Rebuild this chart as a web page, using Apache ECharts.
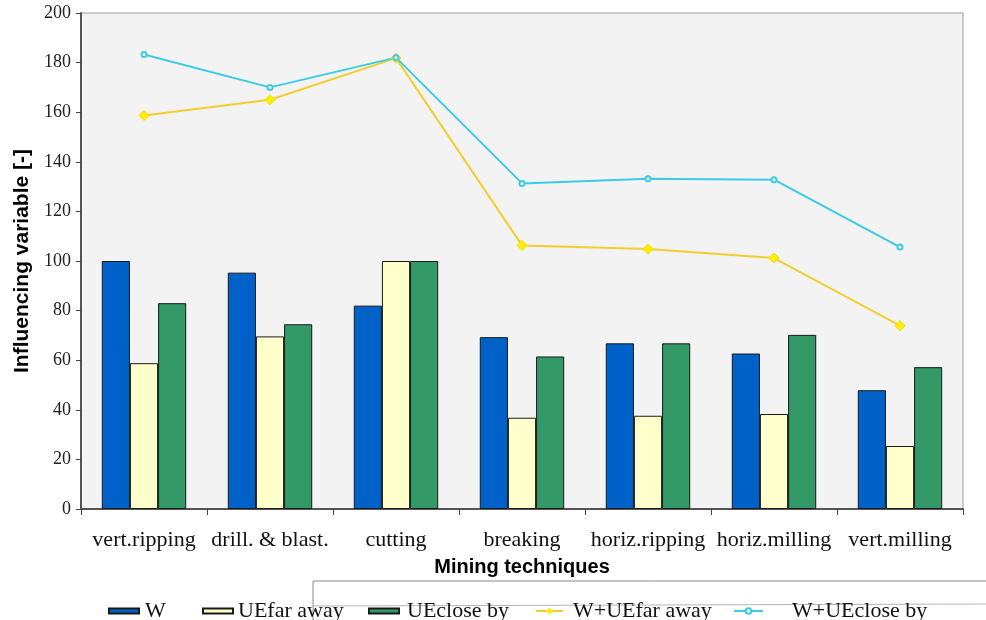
<!DOCTYPE html>
<html>
<head>
<meta charset="utf-8">
<script src="https://cdn.jsdelivr.net/npm/echarts@6/dist/echarts.min.js"></script>
<style>
  html, body { margin: 0; padding: 0; background: #fff; }
  #chart { width: 986px; height: 620px; }
</style>
</head>
<body>
<div id="chart"></div>
<script>
// data
var techniques = ['vert.ripping', 'drill. & blast.', 'cutting', 'breaking', 'horiz.ripping', 'horiz.milling', 'vert.milling'];
var W = [100, 95.3, 82, 69.3, 66.8, 62.7, 47.9];
var UEfar = [58.8, 69.6, 100, 36.8, 37.6, 38.3, 25.4];
var UEclose = [83, 74.5, 100, 61.5, 66.8, 70.2, 57.2];
var WUEfar = [158.7, 165, 181.8, 106.3, 104.8, 101.2, 73.9];
var WUEclose = [183.3, 170, 182, 131.3, 133.2, 132.8, 105.6];
var yTicks = [0, 20, 40, 60, 80, 100, 120, 140, 160, 180, 200];

var serif = '"Liberation Serif", "DejaVu Serif", serif';
var sans = '"Liberation Sans", Arial, sans-serif';

var chart = echarts.init(document.getElementById('chart'));

// one legend per entry so each can sit where the original puts it
function legendAt(name, left, icon, w, h, textGap) {
  return {
    data: [name],
    left: left,
    top: 595,
    itemWidth: w,
    itemHeight: h,
    icon: icon,
    selectedMode: false,
    textStyle: {
      fontFamily: serif, fontSize: 22, color: '#111',
      padding: [0, 0, 0, textGap]
    }
  };
}

var option = {
  backgroundColor: '#ffffff',
  animation: false,
  grid: {
    left: 81, right: 23, top: 13, bottom: 111,
    containLabel: false,
    outerBoundsMode: 'none',
    show: true,
    backgroundColor: '#f3f3f3',
    borderColor: '#9a9a9a',
    borderWidth: 1
  },
  legend: [
    legendAt('W', 103, 'rect', 30, 5, 1),
    legendAt('UEfar away', 197, 'rect', 30, 5, 0),
    legendAt('UEclose by', 363, 'rect', 30, 5, 3),
    legendAt('W+UEfar away', 530, null, 27, 9, 5),
    legendAt('W+UEclose by', 728, null, 29, 7, 24)
  ],
  xAxis: {
    type: 'category',
    data: techniques,
    name: 'Mining techniques',
    nameLocation: 'middle',
    nameGap: 48,
    nameMoveOverlap: false,
    nameTextStyle: { fontFamily: sans, fontWeight: 'bold', fontSize: 20, color: '#000' },
    axisLine: { lineStyle: { color: '#555', width: 2 } },
    axisTick: { show: true, length: 6, lineStyle: { color: '#444' } },
    axisLabel: { interval: 0, fontFamily: serif, fontSize: 22, color: '#111', margin: 20 },
    splitLine: { show: false }
  },
  yAxis: {
    type: 'value',
    min: yTicks[0],
    max: yTicks[yTicks.length - 1],
    interval: 20,
    name: 'Influencing variable [-]',
    nameLocation: 'middle',
    nameGap: 48,
    nameMoveOverlap: false,
    nameTextStyle: { fontFamily: sans, fontWeight: 'bold', fontSize: 21, color: '#000' },
    axisLine: { show: true, lineStyle: { color: '#555', width: 2 } },
    axisTick: { show: true, length: 5, lineStyle: { color: '#444' } },
    axisLabel: { fontFamily: serif, fontSize: 18, color: '#222', margin: 10 },
    splitLine: { show: false }
  },
  series: [
    {
      name: 'W', type: 'bar', data: W,
      barGap: '0%', barCategoryGap: '33%',
      itemStyle: { color: '#0062c9', borderColor: '#1a1a1a', borderWidth: 1 }
    },
    {
      name: 'UEfar away', type: 'bar', data: UEfar,
      itemStyle: { color: '#ffffcc', borderColor: '#1a1a1a', borderWidth: 1 }
    },
    {
      name: 'UEclose by', type: 'bar', data: UEclose,
      itemStyle: { color: '#339966', borderColor: '#1a1a1a', borderWidth: 1 }
    },
    {
      name: 'W+UEfar away', type: 'line', data: WUEfar,
      symbol: 'diamond', symbolSize: 10,
      lineStyle: { color: '#f2cf2e', width: 2 },
      itemStyle: { color: '#ffee00', borderColor: '#f2dc00' }
    },
    {
      name: 'W+UEclose by', type: 'line', data: WUEclose,
      symbol: 'emptyCircle', symbolSize: 5,
      lineStyle: { color: '#3ccbe6', width: 2 },
      itemStyle: { color: '#3ccbe6' }
    }
  ],
  graphic: [
    {
      type: 'polyline',
      z: -1,
      shape: { points: [[313, 620], [313, 581], [986, 581]] },
      style: { stroke: '#8a8a8a', lineWidth: 1, fill: null }
    },
    {
      type: 'line',
      z: -1,
      shape: { x1: 313, y1: 606, x2: 986, y2: 604 },
      style: { stroke: '#b5b5b5', lineWidth: 1 }
    }
  ]
};

chart.setOption(option);
</script>
</body>
</html>
